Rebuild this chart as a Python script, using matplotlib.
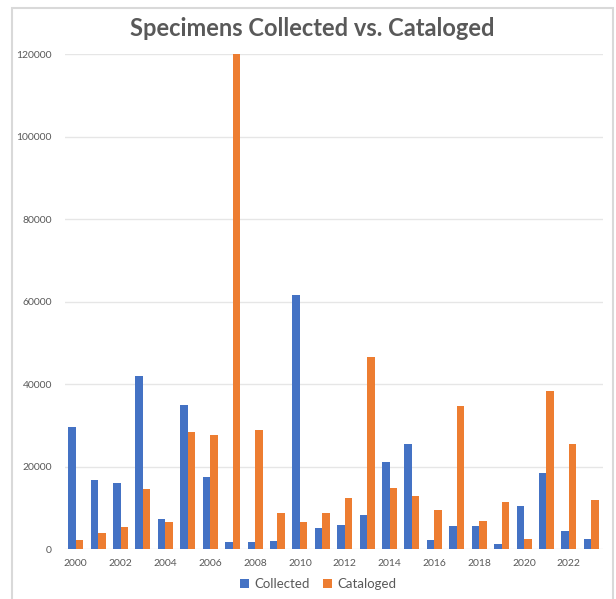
import matplotlib
matplotlib.use("Agg")
import matplotlib.pyplot as plt
import numpy as np
from matplotlib.patches import Rectangle

years = list(range(2000, 2024))
collected = [29600, 16800, 16000, 42000, 7300, 34900, 17400, 1700, 1700, 1900, 61500,
             5100, 5800, 8200, 21100, 25500, 2200, 5600, 5600, 1400, 10500, 18500, 4500, 2400]
cataloged = [2300, 3900, 5500, 14600, 6600, 28300, 27700, 120000, 28800, 8900, 6500,
             8700, 12500, 46700, 14900, 12800, 9600, 34700, 6800, 11400, 2500, 38400, 25600, 12000]
y_ticks = [0, 20000, 40000, 60000, 80000, 100000, 120000]

blue = "#4472C4"
orange = "#ED7D31"
grey_text = "#595959"

plt.rcParams['font.family'] = ['Lato', 'DejaVu Sans']

fig = plt.figure(figsize=(6.16, 5.99), dpi=100)
# light chart frame
fig.patches.append(Rectangle((12 / 616, -0.01), 601 / 616, 1 - 8 / 599 + 0.01,
                             transform=fig.transFigure, fill=False,
                             edgecolor="#d9d9d9", linewidth=1.5))

ax = fig.add_axes([64.5 / 616, 1 - 549.3 / 599, 538 / 616, (549.3 - 54) / 599])

x = np.arange(len(years))
w = 1 / 3
ax.bar(x - w / 2, collected, width=w, color=blue, label="Collected", zorder=3)
ax.bar(x + w / 2, cataloged, width=w, color=orange, label="Cataloged", zorder=3)

ax.set_xlim(-0.5, len(years) - 0.5)
ax.set_ylim(0, 120000)
ax.set_yticks(y_ticks)
ax.set_yticklabels([str(v) for v in y_ticks])
ax.set_xticks(x[::2])
ax.set_xticklabels([str(y) for y in years[::2]])
ax.tick_params(axis="both", length=0, labelsize=7.5, colors=grey_text)
ax.tick_params(axis="y", pad=9)
ax.tick_params(axis="x", pad=7)
ax.grid(axis="y", color="#e6e6e6", linewidth=1, zorder=0)
for s in ax.spines.values():
    s.set_visible(False)

fig.text(0.507, 1 - 29 / 599, "Specimens Collected vs. Cataloged", ha="center", va="center",
         fontsize=17, fontweight="bold", color=grey_text)

fig.legend(loc="center", bbox_to_anchor=(318 / 616, 1 - 584 / 599), ncol=2, frameon=False,
           fontsize=9.5, handlelength=0.7, handleheight=0.7, handletextpad=0.4,
           columnspacing=1.0, labelcolor=grey_text)

fig.savefig("out.png", dpi=100)
